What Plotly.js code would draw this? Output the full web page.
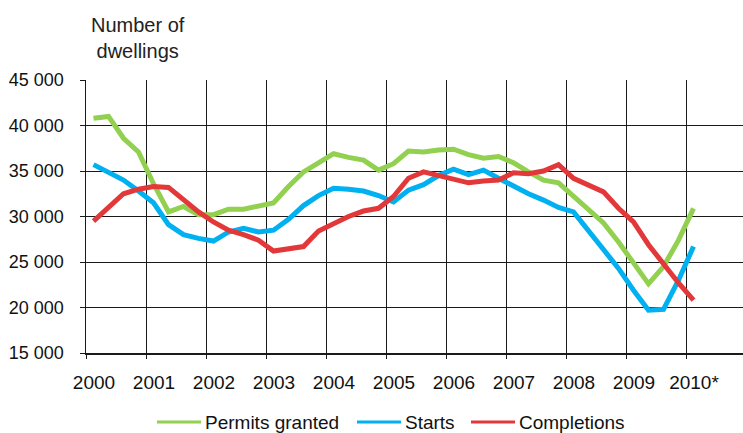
<!DOCTYPE html>
<html>
<head>
<meta charset="utf-8">
<script src="https://cdn.plot.ly/plotly-3.0.1.min.js"></script>
<style>
html,body{margin:0;padding:0;background:#fff;}
#chart{width:743px;height:433px;}
</style>
</head>
<body>
<div id="chart"></div>
<script>
// Quarterly periods (2000Q1 .. 2010Q1)
const quarters = [
  '2000Q1','2000Q2','2000Q3','2000Q4',
  '2001Q1','2001Q2','2001Q3','2001Q4',
  '2002Q1','2002Q2','2002Q3','2002Q4',
  '2003Q1','2003Q2','2003Q3','2003Q4',
  '2004Q1','2004Q2','2004Q3','2004Q4',
  '2005Q1','2005Q2','2005Q3','2005Q4',
  '2006Q1','2006Q2','2006Q3','2006Q4',
  '2007Q1','2007Q2','2007Q3','2007Q4',
  '2008Q1','2008Q2','2008Q3','2008Q4',
  '2009Q1','2009Q2','2009Q3','2009Q4',
  '2010Q1'
];

const permitsGranted = [
  40800, 41000, 38600, 37100,
  33600, 30500, 31100, 30200,
  30200, 30800, 30800, 31200,
  31500, 33300, 34900, 35900,
  36900, 36500, 36200, 35100,
  35800, 37200, 37100, 37300,
  37400, 36800, 36400, 36600,
  35900, 34900, 34000, 33700,
  32200, 30800, 29300, 27200,
  25000, 22600, 24500, 27400,
  30900
];

const starts = [
  35700, 34900, 34000, 32800,
  31500, 29100, 28000, 27600,
  27300, 28300, 28700, 28300,
  28500, 29700, 31200, 32300,
  33100, 33000, 32800, 32300,
  31600, 32900, 33500, 34500,
  35200, 34600, 35100, 34200,
  33300, 32500, 31800, 31000,
  30500, 28500, 26300, 24300,
  21900, 19700, 19800, 23000,
  26700
];

const completions = [
  29500, 31000, 32500, 33000,
  33300, 33200, 31800, 30500,
  29400, 28500, 28000, 27400,
  26200, 26400, 26700, 28400,
  29200, 30000, 30600, 30900,
  32200, 34200, 34900, 34500,
  34100, 33700, 33900, 34000,
  34800, 34700, 35000, 35700,
  34200, 33400, 32700, 30900,
  29400, 26900, 24700, 22700,
  20800
];

const seriesNames = ['Permits granted', 'Starts', 'Completions'];
const seriesColors = ['#92D050', '#00B0F0', '#E3383A'];

const yearTicks = [2000, 2001, 2002, 2003, 2004, 2005, 2006, 2007, 2008, 2009, 2010];
const yearLabels = ['2000', '2001', '2002', '2003', '2004', '2005', '2006', '2007', '2008', '2009', '2010*'];
const yTicks = [15000, 20000, 25000, 30000, 35000, 40000, 45000];
const yLabels = ['15 000', '20 000', '25 000', '30 000', '35 000', '40 000', '45 000'];

// position each quarter in the middle of its quarter-year slot
const xPos = quarters.map(q => {
  const y = parseInt(q.slice(0, 4), 10);
  const n = parseInt(q.slice(5), 10);
  return y + (n - 0.5) / 4;
});

const allSeries = [permitsGranted, starts, completions];
const traces = allSeries.map((vals, i) => ({
  type: 'scatter',
  mode: 'lines',
  x: xPos,
  y: vals,
  name: seriesNames[i],
  line: {color: seriesColors[i], width: 5},
  showlegend: false,
  hoverinfo: 'x+y+name'
}));

const font = 'Liberation Sans, Arial, sans-serif';

// plot-area geometry in pixels (for the hand-made legend)
const W = 743, H = 433, ML = 86, MR = 0, MT = 80, MB = 80;
const PW = W - ML - MR, PH = H - MT - MB;
const px = v => (v - ML) / PW;
const py = v => (H - MB - v) / PH;

const legendLineStart = [157, 357, 471];
const legendY = 422;
const shapes = [];
const annotations = [{
  text: 'Number of<br>dwellings',
  xref: 'paper', yref: 'paper',
  x: px(138), y: py(12),
  xanchor: 'center', yanchor: 'top',
  showarrow: false,
  align: 'center',
  font: {family: font, size: 20, color: '#222'}
}];
seriesNames.forEach((name, i) => {
  const x0 = legendLineStart[i];
  shapes.push({
    type: 'line', xref: 'paper', yref: 'paper',
    x0: px(x0), x1: px(x0 + 44), y0: py(legendY), y1: py(legendY),
    line: {color: seriesColors[i], width: 3}
  });
  annotations.push({
    text: name,
    xref: 'paper', yref: 'paper',
    x: px(x0 + 46), y: py(legendY),
    xanchor: 'left', yanchor: 'middle',
    showarrow: false,
    font: {family: font, size: 19, color: '#111'}
  });
});

const layout = {
  width: W,
  height: H,
  margin: {l: ML, r: MR, t: MT, b: MB},
  paper_bgcolor: '#ffffff',
  plot_bgcolor: '#ffffff',
  font: {family: font, size: 16, color: '#111'},
  showlegend: false,
  xaxis: {
    range: [2000, 2010.95],
    tickmode: 'array',
    tickvals: yearTicks,
    ticktext: yearLabels,
    showgrid: true,
    gridcolor: '#1a1a1a',
    gridwidth: 1,
    showline: true,
    linecolor: '#1a1a1a',
    linewidth: 1.5,
    ticks: 'outside',
    ticklen: 4,
    tickcolor: '#1a1a1a',
    ticklabelstandoff: 8,
    ticklabelshift: 8,
    tickfont: {family: font, size: 19, color: '#111'},
    zeroline: false,
    fixedrange: true
  },
  yaxis: {
    range: [15000, 45000],
    tickmode: 'array',
    tickvals: yTicks,
    ticktext: yLabels,
    showgrid: true,
    gridcolor: '#1a1a1a',
    gridwidth: 1,
    showline: true,
    linecolor: '#1a1a1a',
    linewidth: 1.5,
    ticks: 'outside',
    ticklen: 5,
    tickcolor: '#1a1a1a',
    ticklabelstandoff: 12,
    tickfont: {family: font, size: 18, color: '#111'},
    zeroline: false,
    fixedrange: true
  },
  shapes: shapes,
  annotations: annotations
};

Plotly.newPlot('chart', traces, layout, {displayModeBar: false, staticPlot: true});
</script>
</body>
</html>
